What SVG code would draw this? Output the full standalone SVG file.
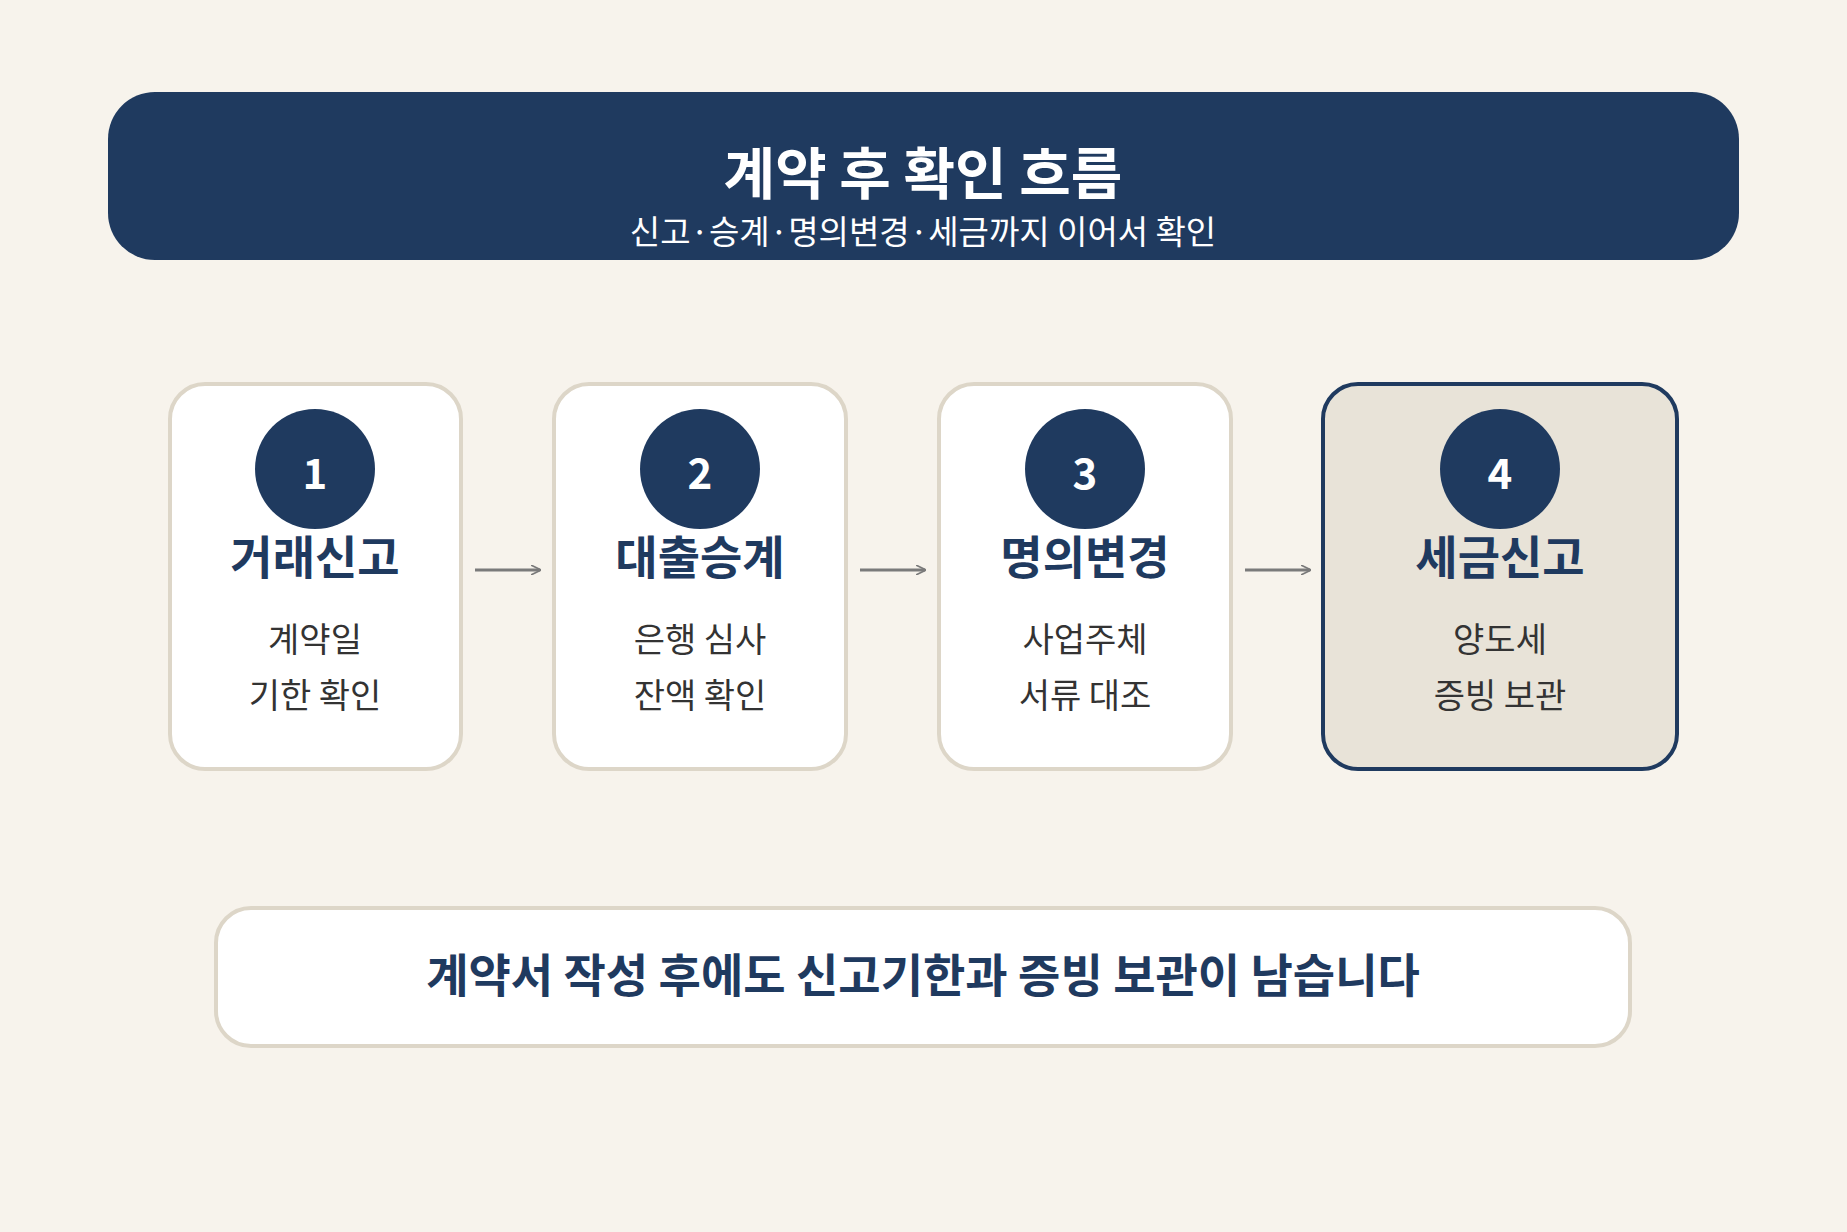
<svg xmlns="http://www.w3.org/2000/svg" width="1847" height="1232" viewBox="0 0 1847 1232">
<style>
text{font-family:"Noto Sans CJK KR","Noto Sans",sans-serif;text-anchor:middle}
.card{fill:#fff;stroke:#ddd6c8;stroke-width:4}
.hl{fill:#e8e3d8;stroke:#1f3a5f;stroke-width:4}
.circ{fill:#1f3a5f}
.num{fill:#fff;font-size:42px;font-weight:700}
.ttl{fill:#1f3a5f;font-size:46px;font-weight:700}
.body{fill:#333;font-size:34px}
.arr{stroke:#7a7a7a;stroke-width:3;fill:none}
</style>
<defs><marker id="ah" viewBox="0 0 10 10" refX="9" refY="5" markerWidth="10" markerHeight="10" markerUnits="userSpaceOnUse" orient="auto"><path d="M0,0 L10,5 L0,10" fill="none" stroke="#7a7a7a" stroke-width="1.6"/></marker></defs>
<rect width="1847" height="1232" fill="#f7f3ec"/>
<g id="header">
<rect x="108" y="92" width="1631" height="168" rx="47" fill="#1f3a5f"/>
<text x="923" y="194" fill="#fff" font-size="56" font-weight="700">계약 후 확인 흐름</text>
<text x="923" y="244" fill="#fff" font-size="33">신고·승계·명의변경·세금까지 이어서 확인</text>
</g>
<g id="connectors">
<line class="arr" x1="475" y1="570" x2="540" y2="570" marker-end="url(#ah)"/>
<line class="arr" x1="860" y1="570" x2="925" y2="570" marker-end="url(#ah)"/>
<line class="arr" x1="1245" y1="570" x2="1310" y2="570" marker-end="url(#ah)"/>
</g>
<g id="step1">
<rect class="card" x="170" y="384" width="291" height="385" rx="35"/>
<circle class="circ" cx="315" cy="469" r="60"/>
<text class="num" x="315" y="489">1</text>
<text class="ttl" x="315" y="574">거래신고</text>
<text class="body" x="315" y="652">계약일</text>
<text class="body" x="315" y="708">기한 확인</text>
</g>
<g id="step2">
<rect class="card" x="554" y="384" width="292" height="385" rx="35"/>
<circle class="circ" cx="700" cy="469" r="60"/>
<text class="num" x="700" y="489">2</text>
<text class="ttl" x="700" y="574">대출승계</text>
<text class="body" x="700" y="652">은행 심사</text>
<text class="body" x="700" y="708">잔액 확인</text>
</g>
<g id="step3">
<rect class="card" x="939" y="384" width="292" height="385" rx="35"/>
<circle class="circ" cx="1085" cy="469" r="60"/>
<text class="num" x="1085" y="489">3</text>
<text class="ttl" x="1085" y="574">명의변경</text>
<text class="body" x="1085" y="652">사업주체</text>
<text class="body" x="1085" y="708">서류 대조</text>
</g>
<g id="step4">
<rect class="hl" x="1323" y="384" width="354" height="385" rx="35"/>
<circle class="circ" cx="1500" cy="469" r="60"/>
<text class="num" x="1500" y="489">4</text>
<text class="ttl" x="1500" y="574">세금신고</text>
<text class="body" x="1500" y="652">양도세</text>
<text class="body" x="1500" y="708">증빙 보관</text>
</g>
<g id="footer">
<rect class="card" x="216" y="908" width="1414" height="138" rx="35"/>
<text x="923" y="992" fill="#1f3a5f" font-size="46" font-weight="700">계약서 작성 후에도 신고기한과 증빙 보관이 남습니다</text>
</g>
</svg>
